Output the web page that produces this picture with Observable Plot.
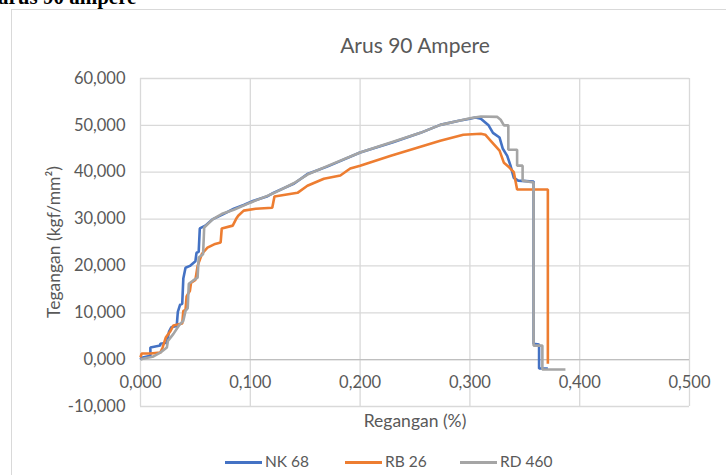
<!DOCTYPE html>
<html>
<head>
<meta charset="utf-8">
<script src="https://cdn.jsdelivr.net/npm/d3@7"></script>
<script src="https://cdn.jsdelivr.net/npm/@observablehq/plot@0.6"></script>
<style>
  html, body { margin: 0; padding: 0; background: #fff; }
  #wrap { position: relative; width: 726px; height: 475px; overflow: hidden; font-family: Lato, "Open Sans", sans-serif; color: #595959; }
  #frame { position: absolute; left: 11px; top: 9px; width: 900px; height: 700px; border: 1.5px solid #d9d9d9; box-sizing: border-box; }
  #heading { position: absolute; left: -2px; top: -13px; font-family: "Liberation Serif", serif; font-weight: bold; font-size: 21px; line-height: 1; color: #000; white-space: nowrap; }
  #title { position: absolute; left: 0; width: 830px; top: 32px; text-align: center; font-size: 21px; color: #595959; }
  #chart { position: absolute; left: 0; top: 0; }
  #ylab { position: absolute; left: 53px; top: 242px; transform: translate(-50%, -50%) rotate(-90deg); font-size: 17.5px; white-space: nowrap; }
  #xlab { position: absolute; left: 0; width: 830px; top: 410px; text-align: center; font-size: 17.5px; }
  #legend { position: absolute; top: 451px; left: 0; width: 726px; height: 20px; }
  .item { position: absolute; top: 0; font-size: 15.5px; line-height: 20px; white-space: nowrap; }
  .sw { display: inline-block; width: 37px; height: 3px; vertical-align: middle; margin-right: 3px; position: relative; top: -1px; }
</style>
</head>
<body>
<div id="wrap">
  <div id="frame"></div>
  <div id="heading">arus 90 ampere</div>
  <div id="chart"></div>
  <div id="title">Arus 90 Ampere</div>
  <div id="ylab">Tegangan (kgf/mm²)</div>
  <div id="xlab">Regangan (%)</div>
  <div id="legend"></div>
</div>
<script>
// Series names and colours
const seriesNames = ["NK 68", "RB 26", "RD 460"];
const seriesColors = ["#4472C4", "#ED7D31", "#A5A5A5"];

// Tick values
const xTicks = [0, 0.1, 0.2, 0.3, 0.4, 0.5];
const yTicks = [-10, 0, 10, 20, 30, 40, 50, 60];

// NK 68: [regangan (%), tegangan (kgf/mm²)]
const nk68 = [
  [0, 0], [0.001, 0.4], [0.009, 0.8], [0.009, 2.6], [0.018, 3.0], [0.018, 3.4], [0.024, 3.6],
  [0.026, 6.0], [0.028, 6.9], [0.033, 7.2], [0.034, 10.2], [0.036, 11.7], [0.038, 11.9],
  [0.039, 17.3], [0.041, 19.6], [0.045, 20.0], [0.050, 21.0], [0.051, 22.8], [0.053, 23.0],
  [0.054, 28.0], [0.059, 28.6], [0.066, 30.0], [0.075, 31.0], [0.085, 32.2], [0.094, 33.0],
  [0.103, 33.9], [0.115, 34.8], [0.121, 35.6], [0.140, 37.6], [0.152, 39.6], [0.170, 41.2],
  [0.200, 44.2], [0.230, 46.4], [0.255, 48.4], [0.273, 50.1], [0.290, 51.0], [0.300, 51.4],
  [0.305, 51.7], [0.310, 51.4], [0.314, 50.6], [0.317, 50.0], [0.321, 48.4], [0.327, 47.4],
  [0.330, 45.0], [0.334, 43.5], [0.337, 41.4], [0.340, 38.8], [0.344, 38.2], [0.358, 38.0],
  [0.358, 3.4], [0.363, 3.2], [0.363, -1.9], [0.371, -1.9]
];

// RB 26
const rb26 = [
  [0, 0.5], [0.001, 1.3], [0.009, 1.3], [0.018, 1.5], [0.020, 2.5], [0.023, 4.7], [0.027, 6.0],
  [0.030, 7.3], [0.038, 7.7], [0.039, 10.4], [0.041, 10.6], [0.042, 13.5], [0.045, 14.7],
  [0.046, 16.4], [0.050, 17.0], [0.052, 20.0], [0.056, 22.6], [0.061, 23.9], [0.068, 24.7],
  [0.073, 25.0], [0.074, 28.0], [0.084, 28.6], [0.087, 30.0], [0.089, 30.7], [0.094, 31.8],
  [0.105, 32.2], [0.120, 32.4], [0.122, 34.8], [0.143, 35.6], [0.152, 37.1], [0.167, 38.6],
  [0.182, 39.3], [0.191, 40.8], [0.200, 41.4], [0.228, 43.5], [0.252, 45.2], [0.273, 46.7],
  [0.294, 48.0], [0.310, 48.2], [0.314, 48.0], [0.319, 46.7], [0.327, 44.6], [0.331, 42.0],
  [0.336, 41.0], [0.340, 40.0], [0.343, 36.3], [0.371, 36.3], [0.371, -0.9]
];

// RD 460
const rd460 = [
  [0, 0], [0.002, 0.2], [0.011, 0.6], [0.018, 1.5], [0.024, 2.6], [0.025, 4.0], [0.030, 5.5],
  [0.035, 7.3], [0.039, 8.3], [0.041, 10.4], [0.043, 11.0], [0.044, 16.2], [0.048, 16.9],
  [0.052, 17.5], [0.053, 21.8], [0.057, 22.5], [0.058, 28.2], [0.066, 30.0], [0.075, 31.2],
  [0.085, 32.0], [0.100, 33.5], [0.115, 34.9], [0.121, 35.5], [0.140, 37.7], [0.152, 39.5],
  [0.170, 41.3], [0.200, 44.2], [0.230, 46.5], [0.255, 48.4], [0.273, 50.1], [0.290, 51.0],
  [0.300, 51.5], [0.310, 51.9], [0.325, 51.8], [0.328, 51.2], [0.331, 50.0], [0.335, 50.0],
  [0.335, 44.8], [0.343, 44.8], [0.343, 41.4], [0.348, 41.4], [0.348, 38.2], [0.358, 37.8],
  [0.358, 3.0], [0.366, 3.0], [0.366, -2.1], [0.387, -2.1]
];

const seriesData = [nk68, rb26, rd460];
const rows = seriesData.flatMap((pts, i) => pts.map(([x, y]) => ({series: seriesNames[i], x, y})));

const fmt = v => d3.format(".3f")(v).replace(".", ",").replace("−", "-");
const fontSize = 16.5;

const chart = Plot.plot({
  width: 726,
  height: 475,
  marginLeft: 140,
  marginRight: 37,
  marginTop: 78,
  marginBottom: 69,
  style: {fontFamily: "Lato, 'Open Sans', sans-serif", background: "transparent", overflow: "visible"},
  x: {domain: [0, 0.5], axis: null},
  y: {domain: [-10, 60], axis: null},
  color: {domain: seriesNames, range: seriesColors},
  marks: [
    Plot.gridY(yTicks, {stroke: "#d9d9d9", strokeOpacity: 1, strokeWidth: 1.3}),
    Plot.gridX(xTicks, {stroke: "#d9d9d9", strokeOpacity: 1, strokeWidth: 1.3}),
    Plot.ruleY([0], {stroke: "#bfbfbf", strokeWidth: 1.3}),
    Plot.line(rows, {x: "x", y: "y", z: "series", stroke: "series", strokeWidth: 2.6, strokeLinejoin: "miter", strokeLinecap: "butt"}),
    Plot.text(yTicks, {x: () => 0, y: d => d, text: d => fmt(d), textAnchor: "end", dx: -15, fill: "#595959", fontSize}),
    Plot.text(xTicks, {x: d => d, y: () => 0, text: d => fmt(d), dy: 23, fill: "#595959", fontSize})
  ]
});
document.getElementById("chart").appendChild(chart);

// Legend
const legendPos = [225, 345, 460];
const legend = document.getElementById("legend");
seriesNames.forEach((name, i) => {
  const item = document.createElement("div");
  item.className = "item";
  item.style.left = legendPos[i] + "px";
  item.innerHTML = `<span class="sw" style="background:${seriesColors[i]}"></span>${name}`;
  legend.appendChild(item);
});
</script>
</body>
</html>
